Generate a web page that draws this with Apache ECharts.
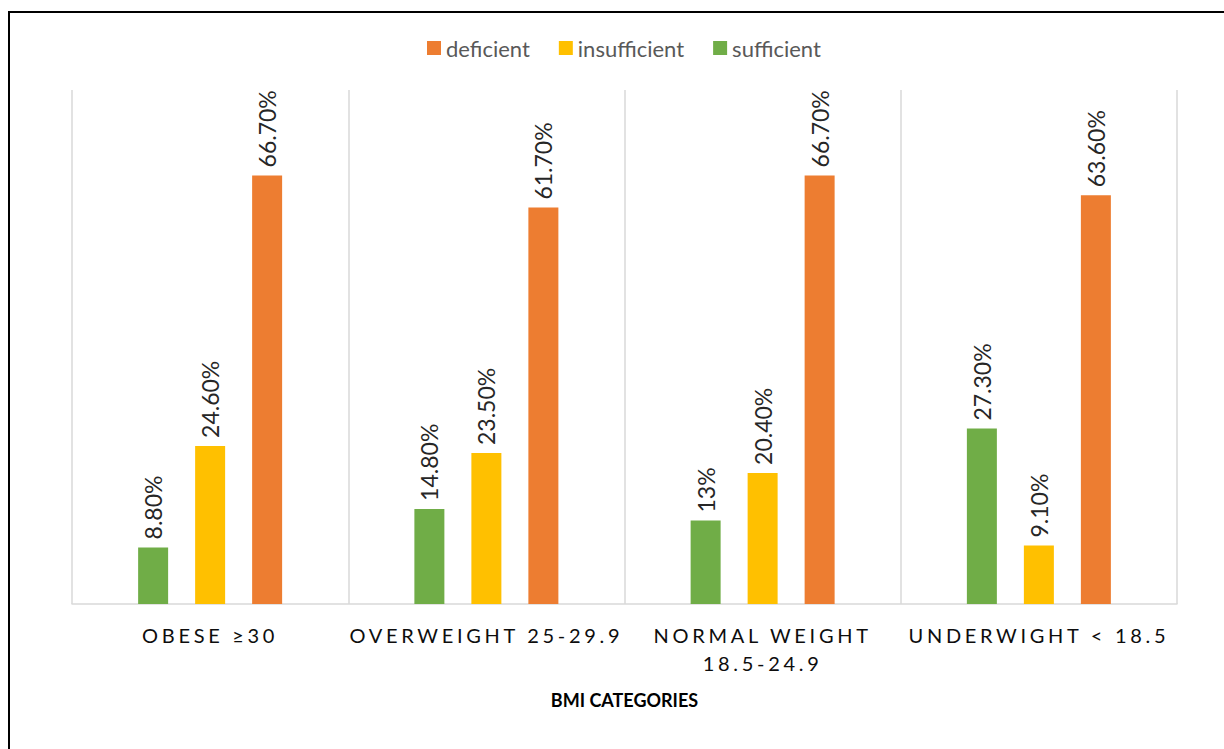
<!DOCTYPE html>
<html>
<head>
<meta charset="utf-8">
<script src="https://cdn.jsdelivr.net/npm/echarts@6/dist/echarts.min.js"></script>
<style>
  html, body { margin: 0; padding: 0; background: #fff; }
  #chart { width: 1224px; height: 749px; }
  /* axis category labels are letter-spaced in the original */
  #chart text[style*="20px"] { letter-spacing: 3.7px; }
</style>
</head>
<body>
<div id="chart"></div>
<script>
// BMI categories on the x axis
var categories = ['OBESE ≥30', 'OVERWEIGHT 25-29.9', 'NORMAL WEIGHT\n18.5-24.9', 'UNDERWIGHT < 18.5'];
// percentages per vitamin status
var sufficient = [8.8, 14.8, 13, 27.3];
var insufficient = [24.6, 23.5, 20.4, 9.1];
var deficient = [66.7, 61.7, 66.7, 63.6];

var chart = echarts.init(document.getElementById('chart'), null, { renderer: 'svg' });

function pct(p) {
    var v = p.value;
    return (Number.isInteger(v) ? v : v.toFixed(2)) + '%';
}

var labelStyle = {
    show: true,
    position: 'top',
    rotate: 90,
    align: 'left',
    verticalAlign: 'middle',
    distance: 8,
    fontFamily: 'Lato',
    fontSize: 23,
    color: '#262626',
    formatter: pct
};

chart.setOption({
    animation: false,
    backgroundColor: '#fff',
    graphic: [{
        type: 'rect',
        shape: { x: 9, y: 12, width: 1400, height: 900 },
        style: { fill: 'none', stroke: '#000', lineWidth: 2 },
        silent: true
    }],
    legend: {
        top: 32,
        left: 422,
        itemWidth: 14,
        itemHeight: 14,
        itemGap: 29,
        icon: 'rect',
        data: ['deficient', 'insufficient', 'sufficient'],
        textStyle: { fontFamily: 'Lato', fontSize: 22, color: '#595959' }
    },
    grid: { left: 72, right: 47, top: 90, bottom: 145 },
    xAxis: {
        type: 'category',
        data: categories,
        axisTick: { show: false },
        axisLine: { lineStyle: { color: '#d9d9d9', width: 1.5 } },
        splitLine: { show: true, lineStyle: { color: '#d9d9d9', width: 1.5 } },
        axisLabel: {
            interval: 0,
            margin: 17,
            fontFamily: 'Lato',
            fontSize: 20,
            lineHeight: 28,
            color: '#0d0d0d'
        },
        name: 'BMI CATEGORIES',
        nameLocation: 'middle',
        nameGap: 87,
        nameTextStyle: { fontFamily: 'Lato', fontSize: 18, fontWeight: 'bold', color: '#000' }
    },
    yAxis: {
        type: 'value',
        min: 0,
        max: 80,
        show: false,
        splitLine: { show: false }
    },
    series: [
        {
            name: 'sufficient', type: 'bar', data: sufficient,
            barWidth: 30, barGap: '90%',
            itemStyle: { color: '#70AD47' }, label: labelStyle
        },
        {
            name: 'insufficient', type: 'bar', data: insufficient,
            barWidth: 30, barGap: '90%',
            itemStyle: { color: '#FFC000' }, label: labelStyle
        },
        {
            name: 'deficient', type: 'bar', data: deficient,
            barWidth: 30, barGap: '90%',
            itemStyle: { color: '#ED7D31' }, label: labelStyle
        }
    ]
});

window.onresize = function () {
    chart.resize();
};
</script>
</body>
</html>
